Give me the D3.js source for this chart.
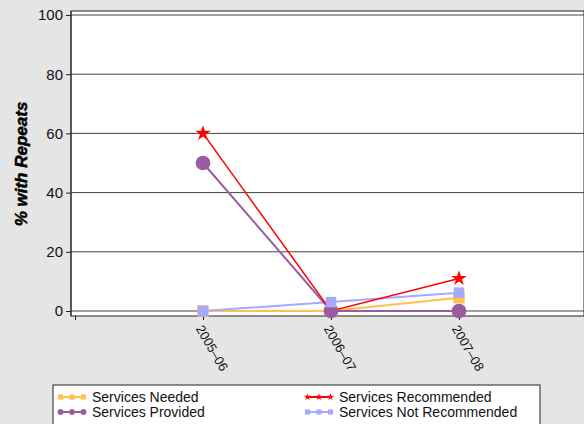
<!DOCTYPE html>
<html><head><meta charset="utf-8">
<script src="https://cdn.jsdelivr.net/npm/d3@7"></script>
<style>body{margin:0;background:#e5e5e5;}svg{display:block;font-family:"Liberation Sans",Arial,sans-serif;}</style>
</head><body>
<svg id="c" width="584" height="424"></svg>
<script>
const categories = ["2005–06", "2006–07", "2007–08"];
const yTicks = [0, 20, 40, 60, 80, 100];
const servicesNeeded = [0, 0, 4.5];
const servicesRecommended = [60, 0, 11];
const servicesProvided = [50, 0, 0];
const servicesNotRecommended = [0, 3, 6.2];

const series = [
  {name: "Services Needed", values: servicesNeeded, color: "#FFC04C", sym: d3.symbolSquare, size: 130, lw: 2},
  {name: "Services Provided", values: servicesProvided, color: "#9B5B9F", sym: d3.symbolCircle, size: 170, lw: 2},
  {name: "Services Recommended", values: servicesRecommended, color: "#FF0000", sym: d3.symbolStar, size: 75, lw: 1.5},
  {name: "Services Not Recommended", values: servicesNotRecommended, color: "#A8A8FF", sym: d3.symbolSquare, size: 110, lw: 2}
];

const svg = d3.select("#c");
const L = 71, T = 11, R = 584, B = 316;
svg.append("rect").attr("x", L).attr("y", T).attr("width", R - L).attr("height", B - T)
  .attr("fill", "#fff").attr("stroke", "#222").attr("stroke-width", 1);

const y = d3.scaleLinear().domain([0, 100]).range([311, 15]);
const xDomain = ["", ...categories, " "];
const x = d3.scalePoint().domain(xDomain).range([75, 587]);

// gridlines
svg.append("g").selectAll("line").data(yTicks).join("line")
  .attr("x1", L).attr("x2", R).attr("y1", d => y(d)).attr("y2", d => y(d))
  .attr("stroke", "#444").attr("stroke-width", 1);

// y axis
const ya = svg.append("g").attr("transform", `translate(${L},0)`)
  .call(d3.axisLeft(y).tickValues(yTicks).tickSize(5).tickPadding(3));
ya.select(".domain").remove();
ya.selectAll("text").attr("font-size", 15).attr("fill", "#111").attr("font-family", "Liberation Sans, Arial, sans-serif");
ya.selectAll("line").attr("stroke", "#222");
svg.append("line").attr("x1", L).attr("x2", L).attr("y1", T).attr("y2", B).attr("stroke", "#222");

// x axis
const xa = svg.append("g").attr("transform", `translate(0,${B})`)
  .call(d3.axisBottom(x).tickSize(4).tickFormat(d => d));
xa.select(".domain").remove();
xa.selectAll("line").attr("stroke", "#222");
xa.selectAll("text").attr("font-size", 13).attr("fill", "#111")
  .attr("text-anchor", "start").attr("dy", 0)
  .attr("transform", "translate(-2,9) rotate(60)")
  .attr("font-family", "Liberation Sans, Arial, sans-serif");

// y label
svg.append("text").attr("transform", "translate(27,164) rotate(-90)")
  .attr("text-anchor", "middle").attr("font-size", 17).attr("font-weight", 900)
  .attr("font-style", "italic").attr("fill", "#000").attr("stroke", "#000").attr("stroke-width", 0.5)
  .text("% with Repeats");

const line = d3.line().x((d, i) => x(categories[i])).y(d => y(d));
const lineOrder = [series[0], series[3], series[1], series[2]];
lineOrder.forEach(s => {
  svg.append("path").datum(s.values).attr("d", line).attr("fill", "none")
    .attr("stroke", s.color).attr("stroke-width", s.lw);
});
const markerOrder = [series[2], series[0], series[1], series[3]];
markerOrder.forEach(s => {
  svg.append("g").selectAll("path").data(s.values).join("path")
    .attr("transform", (d, i) => `translate(${x(categories[i])},${y(d)})`)
    .attr("d", d3.symbol().type(s.sym).size(s.size)).attr("fill", s.color);
});

// legend
svg.append("rect").attr("x", 53).attr("y", 385).attr("width", 487).attr("height", 50)
  .attr("fill", "#fff").attr("stroke", "#222");
const legPos = [[59, 397], [59, 412], [306, 397], [306, 412]];
series.forEach((s, i) => {
  const [lx, ly] = legPos[i];
  const g = svg.append("g").attr("transform", `translate(${lx},${ly})`);
  g.append("line").attr("x1", 0).attr("x2", 26).attr("stroke", s.color).attr("stroke-width", 2);
  [1.5, 13, 24.5].forEach(px => g.append("path").attr("transform", `translate(${px},0)`)
    .attr("d", d3.symbol().type(s.sym).size(s.sym === d3.symbolStar ? 16 : 26)).attr("fill", s.color));
  g.append("text").attr("x", 33).attr("y", 5).attr("font-size", 14).attr("fill", "#111").text(s.name);
});
</script>
</body></html>
